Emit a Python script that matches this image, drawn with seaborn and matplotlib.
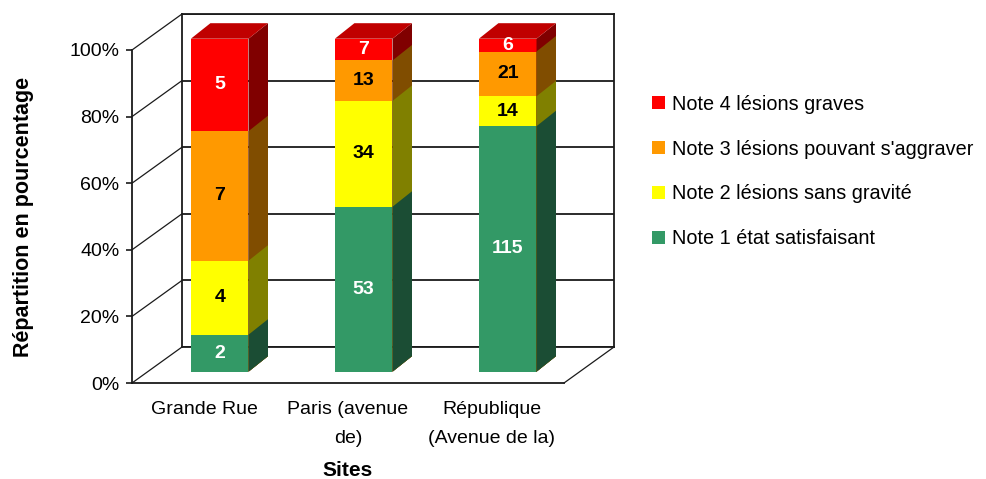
import numpy as np
import pandas as pd
import matplotlib
matplotlib.use("Agg")
import matplotlib.pyplot as plt
from matplotlib.patches import Polygon, Patch
import seaborn as sns

# ---------------- data ----------------
sites = ["Grande Rue", "Paris (avenue\nde)", "République\n(Avenue de la)"]
note1 = [2, 53, 115]
note2 = [4, 34, 14]
note3 = [7, 13, 21]
note4 = [5, 7, 6]
series_names = ["Note 1 état satisfaisant", "Note 2 lésions sans gravité",
                "Note 3 lésions pouvant s'aggraver", "Note 4 lésions graves"]
y_ticks = [0, 20, 40, 60, 80, 100]
y_tick_labels = ["0%", "20%", "40%", "60%", "80%", "100%"]
x_label = "Sites"
y_label = "Répartition en pourcentage"

# ---------------- style ----------------
front_colors = ["#339966", "#FFFF00", "#FF9900", "#FF0000"]
side_colors = ["#1B4D34", "#808000", "#804D00", "#800000"]
top_color = "#C00000"
label_colors = ["white", "black", "black", "white"]
line_color = "#1a1a1a"

sns.set_style("white")
plt.rcParams['font.family'] = ['Liberation Sans', 'DejaVu Sans']
plt.rcParams['text.color'] = 'black'
plt.rcParams['axes.labelcolor'] = 'black'
plt.rcParams['xtick.labelcolor'] = 'black'
plt.rcParams['ytick.labelcolor'] = 'black'
FS = 14

W, H = 986, 479
fig = plt.figure(figsize=(W / 100, H / 100), dpi=100)


def rect(left_px, bottom_px, width_px, height_px):
    return [left_px / W, (H - bottom_px) / H, width_px / W, height_px / H]


FX0, FY0, AW, AH = 132, 383, 432, 333      # front plane (pixels)
WALL_DX, WALL_DY = 50, 36                  # back wall offset
BAR_DX, BAR_DY = 15.7, 11.3                # bar front-face offset
DEPTH_DX, DEPTH_DY = 19.5, 15.5            # bar depth

ax_back = fig.add_axes(rect(FX0 + WALL_DX, FY0 - WALL_DY, AW, AH))
ax_front = fig.add_axes(rect(FX0, FY0, AW, AH))
ax_bar = fig.add_axes(rect(FX0 + BAR_DX, FY0 - BAR_DY, AW, AH))

n_cat = len(sites)
xlim = (-0.5, n_cat - 0.5)
ylim = (0, 100)
for a in (ax_back, ax_front, ax_bar):
    a.set_xlim(*xlim)
    a.set_ylim(*ylim)
    a.patch.set_alpha(0)

px_x = (xlim[1] - xlim[0]) / AW     # data units per pixel
px_y = (ylim[1] - ylim[0]) / AH

# ---------------- back wall ----------------
ax_back.set_xticks([])
ax_back.set_yticks(y_ticks)
ax_back.set_yticklabels([])
ax_back.tick_params(length=0)
ax_back.grid(axis="y", color=line_color, lw=1.3)
for s in ax_back.spines.values():
    s.set_visible(True)
    s.set_color(line_color)
    s.set_linewidth(1.3)

# ---------------- front axes ----------------
for s in ["top", "right"]:
    ax_front.spines[s].set_visible(False)
for s in ["left", "bottom"]:
    ax_front.spines[s].set_color(line_color)
    ax_front.spines[s].set_linewidth(1.3)
ax_front.set_yticks(y_ticks)
ax_front.set_yticklabels(y_tick_labels, fontsize=FS)
ax_front.set_xticks(np.arange(n_cat + 1) - 0.5, minor=True)
ax_front.tick_params(axis="x", which="major", length=0)
ax_front.tick_params(axis="x", which="minor", length=4, width=1.2, color=line_color, direction="out")
ax_front.tick_params(axis="y", length=4, width=1.2, color=line_color, direction="out", pad=5, left=True)
ax_front.set_xticks(range(n_cat))
ax_front.set_xticklabels([""] * n_cat)
# category labels (multi-line, wider line spacing)
for i, name in enumerate(sites):
    ax_front.text(i, -(401 - FY0) / AH, name, transform=ax_front.get_xaxis_transform(),
                  ha="center", va="top", fontsize=FS, linespacing=1.9, multialignment="center")
ax_front.set_xlabel(x_label, fontsize=15, fontweight="bold")
ax_front.xaxis.set_label_coords(0.5, -0.235)
ax_front.set_ylabel(y_label, fontsize=15.5, fontweight="bold")
ax_front.yaxis.set_label_coords(-0.228, 0.5)

# side-wall gridlines and floor edge (depth diagonals)
wdx, wdy = WALL_DX * px_x, WALL_DY * px_y
for yv in y_ticks:
    ax_front.plot([xlim[0], xlim[0] + wdx], [yv, yv + wdy], color=line_color,
                  lw=0.9, clip_on=False, solid_capstyle="butt")
ax_front.plot([xlim[1], xlim[1] + wdx], [0, wdy], color=line_color,
              lw=0.9, clip_on=False)

# ---------------- bars ----------------
df = pd.DataFrame({"site": sites, "n1": note1, "n2": note2, "n3": note3, "n4": note4})
counts = df[["n1", "n2", "n3", "n4"]].to_numpy(dtype=float)
totals = counts.sum(axis=1)
pct = counts / totals[:, None] * 100
cum = np.cumsum(pct, axis=1)

ax_bar.axis("off")
ddx, ddy = DEPTH_DX * px_x, DEPTH_DY * px_y

for k in reversed(range(4)):
    sns.barplot(x=df["site"], y=cum[:, k], order=sites, color=front_colors[k],
                saturation=1, width=0.4, linewidth=0, edgecolor="none", ax=ax_bar, zorder=1)
    cont = ax_bar.containers[-1]
    for p in cont.patches:
        x0 = p.get_x()
        x1 = x0 + p.get_width()
        h = p.get_y() + p.get_height()
        b = 0
        side = Polygon([(x1, b), (x1 + ddx, b + ddy), (x1 + ddx, h + ddy), (x1, h)],
                       closed=True, facecolor=side_colors[k], edgecolor="none",
                       zorder=2, clip_on=False)
        ax_bar.add_patch(side)
        if k == 3:
            top = Polygon([(x0, h), (x1, h), (x1 + ddx, h + ddy), (x0 + ddx, h + ddy)],
                          closed=True, facecolor=top_color, edgecolor="none",
                          zorder=2, clip_on=False)
            ax_bar.add_patch(top)

ax_bar.set_xlim(*xlim)
ax_bar.set_ylim(*ylim)

# value labels
for i in range(n_cat):
    for k in range(4):
        mid = cum[i, k] - pct[i, k] / 2
        ax_bar.text(i, mid, f"{int(counts[i, k])}", ha="center", va="center",
                    fontsize=FS, fontweight="bold", color=label_colors[k], zorder=5)

# ---------------- legend ----------------
handles = [Patch(facecolor=front_colors[k], edgecolor="none") for k in reversed(range(4))]
labels = [series_names[k] for k in reversed(range(4))]
fig.legend(handles, labels, loc="center left",
           bbox_to_anchor=(652 / W, (H - 171.5) / H), frameon=False, fontsize=14.3,
           handlelength=0.66, handleheight=0.66, handletextpad=0.34,
           labelspacing=1.3, borderpad=0, borderaxespad=0)

fig.savefig("out.png", dpi=100)
